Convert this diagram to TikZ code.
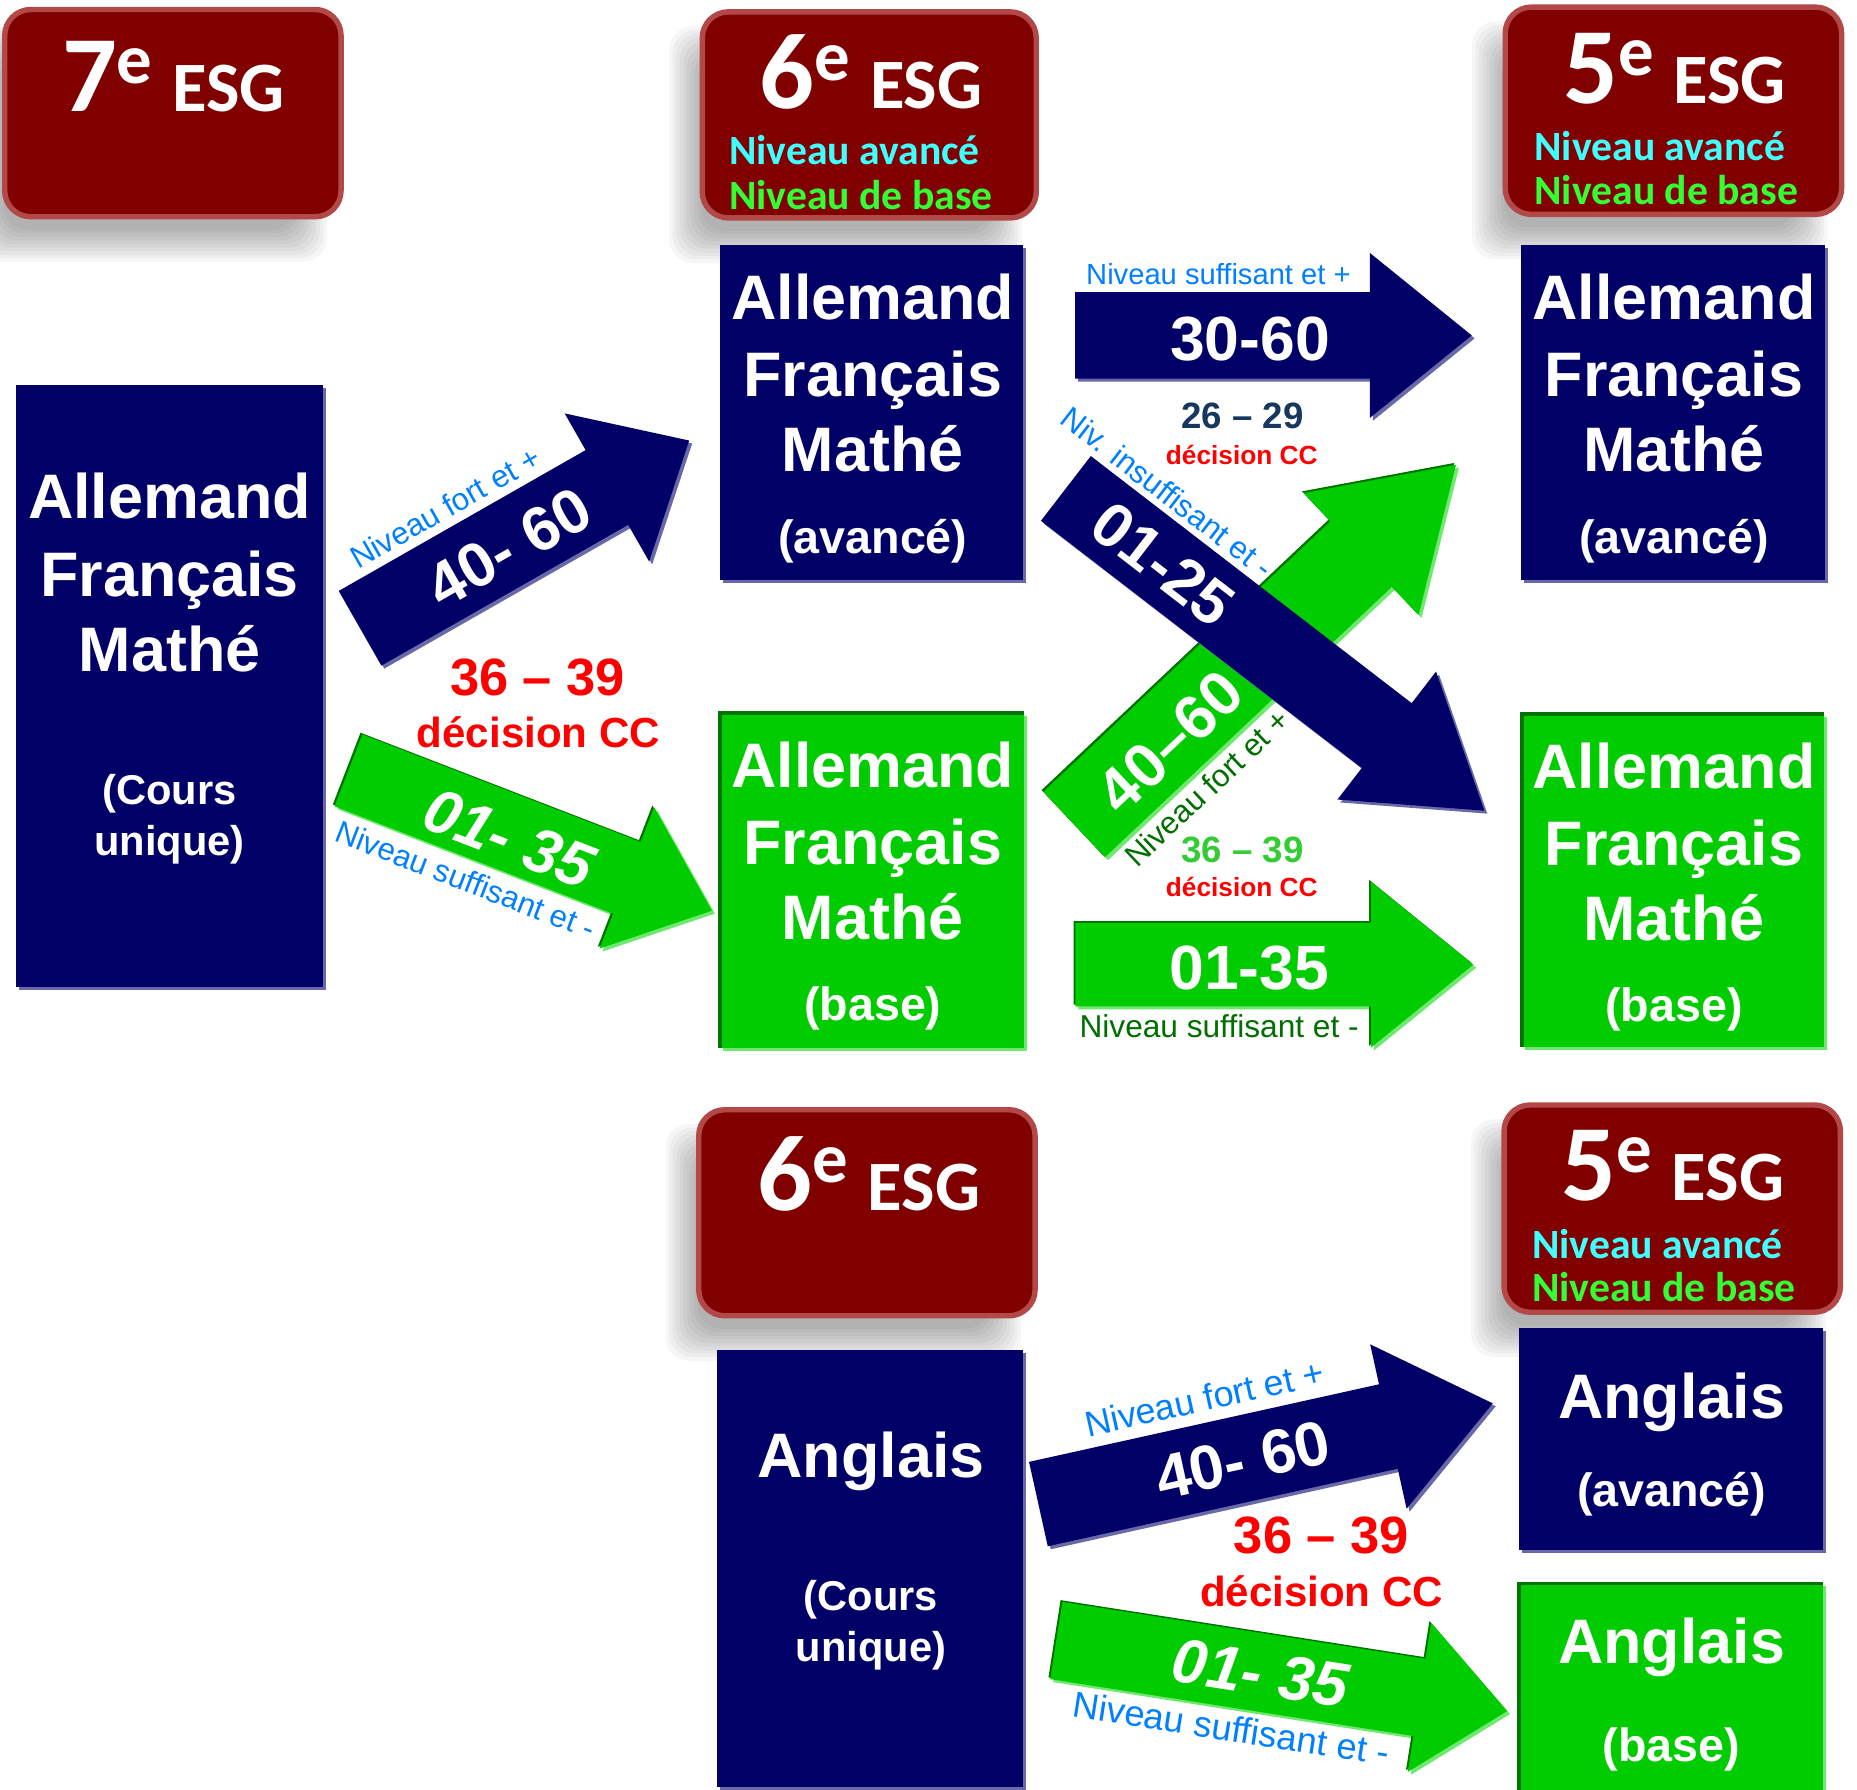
\documentclass[tikz,border=0pt]{standalone}
\usepackage{fontspec}
\setmainfont{Liberation Sans}
\newfontfamily\hdrfont{Carlito}
\definecolor{nvy}{RGB}{0,0,102}
\definecolor{nvyl}{RGB}{105,105,170}
\definecolor{grn}{RGB}{0,204,0}
\definecolor{grnl}{RGB}{110,232,110}
\definecolor{grnd}{RGB}{0,115,0}
\definecolor{dred}{RGB}{128,0,0}
\definecolor{hedge}{RGB}{178,72,72}
\definecolor{cyanT}{RGB}{64,255,255}
\definecolor{limeT}{RGB}{51,255,51}
\definecolor{blueT}{RGB}{0,128,255}
\definecolor{dgrnT}{RGB}{0,110,0}
\definecolor{grnNum}{RGB}{51,204,51}
\definecolor{slateT}{RGB}{23,55,94}
\definecolor{redT}{RGB}{255,0,0}
\newcommand\ttl[1]{{\fontsize{26}{26}\selectfont #1}{\fontsize{17}{17}\selectfont\raisebox{6.8pt}{e}\hspace{0.28em}ESG}}
\newcommand\arrpath[4]{(0,-#3) -- (#2,-#3) -- (#2,-#4) -- (#1,0) -- (#2,#4) -- (#2,#3) -- (0,#3) -- cycle}
% #1 x, #2 y, #3 angle, #4 length, #5 head back, #6 shaft half, #7 head half
\newcommand\navyarrow[7]{%
  \begin{scope}[shift={({#1+2.5},{#2+2.5})},rotate=#3]\fill[nvyl] \arrpath{#4}{#5}{#6}{#7};\end{scope}
  \begin{scope}[shift={(#1,#2)},rotate=#3]\fill[nvy] \arrpath{#4}{#5}{#6}{#7};\end{scope}}
\newcommand\greenarrow[7]{%
  \begin{scope}[shift={({#1+2.5},{#2+2.5})},rotate=#3]\fill[grnl] \arrpath{#4}{#5}{#6}{#7};\end{scope}
  \begin{scope}[shift={({#1-1.5},{#2-1.5})},rotate=#3]\fill[grnd] \arrpath{#4}{#5}{#6}{#7};\end{scope}
  \begin{scope}[shift={(#1,#2)},rotate=#3]\fill[grn] \arrpath{#4}{#5}{#6}{#7};\end{scope}}
% header box: name, x1,y1,x2,y2
\newcommand\headbox[5]{%
  \foreach \d in {-14,-11,...,13} {\fill[black,opacity=0.035,rounded corners=0.2cm] ({#2-15-\d},{#3+25-\d}) rectangle ({#4-25+\d},{#5+25+\d});}
  \draw[hedge,line width=1.3pt,fill=dred,rounded corners=0.22cm] (#2,#3) rectangle (#4,#5);
  \coordinate (#1) at ({(#2+#4)/2},{(#3+#5)/2});}
% block: name, x1,y1,x2,y2, fill, light
\newcommand\block[7]{%
  \fill[#7] ({#2+2.5},{#3+2.5}) rectangle ({#4+2.5},{#5+2.5});
  \fill[#6] (#2,#3) rectangle (#4,#5);
  \coordinate (#1) at ({(#2+#4)/2},{(#3+#5)/2});}
\tikzset{
  blk/.style={text=white,anchor=base,inner sep=0pt,font=\fontsize{15.1}{18}\selectfont\bfseries},
  blksub/.style={text=white,anchor=base,inner sep=0pt,font=\fontsize{10}{12}\selectfont\bfseries},
  blklvl/.style={text=white,anchor=base,inner sep=0pt,font=\fontsize{11.2}{13}\selectfont\bfseries},
  numtxt/.style={text=white,inner sep=0pt,font=\fontsize{15}{18}\selectfont\bfseries},
  lbl/.style={inner sep=0pt,font=\fontsize{7.5}{9}\selectfont},
  hdrtitle/.style={text=white,anchor=base,inner sep=0pt,font=\hdrfont\bfseries},
  hdrlvl/.style={anchor=base west,inner sep=0pt,font=\hdrfont\bfseries\fontsize{10}{12}\selectfont},
  dec/.style={anchor=base,inner sep=0pt,text=redT,font=\bfseries},
}
\begin{document}
\begin{tikzpicture}[x=0.01cm,y=-0.01cm]
\useasboundingbox (0,0) rectangle (1568,1511);
% headers
\headbox{h7}{4}{8}{288}{183}
\headbox{h6}{593}{10}{875}{184}
\headbox{h5}{1271}{6}{1555}{181}
\headbox{h6b}{590}{937}{874}{1111}
\headbox{h5b}{1270}{933}{1554}{1108}
\node[hdrtitle] (h7t) at (146.5,94.3) {\ttl{7}};
\node[hdrtitle] (h6t) at (735.5,91.5) {\ttl{6}};
\node[hdrtitle] (h5t) at (1414,87.3) {\ttl{5}};
\node[hdrtitle] (h6bt) at (733.5,1022.3) {\ttl{6}};
\node[hdrtitle] (h5bt) at (1412.6,1013.8) {\ttl{5}};
\node[hdrlvl,text=cyanT] (h6l1) at (615,139.3) {Niveau avancé};
\node[hdrlvl,text=limeT] (h6l2) at (615,176.8) {Niveau de base};
\node[hdrlvl,text=cyanT] (h5l1) at (1295,135.7) {Niveau avancé};
\node[hdrlvl,text=limeT] (h5l2) at (1295,173) {Niveau de base};
\node[hdrlvl,text=cyanT] (h5bl1) at (1293,1062.5) {Niveau avancé};
\node[hdrlvl,text=limeT] (h5bl2) at (1293,1099) {Niveau de base};
% blocks
\block{b7}{13.5}{325}{273}{833}{nvy}{nvyl}
\block{b6a}{608}{207}{864}{490}{nvy}{nvyl}
\block{b6b}{608}{602}{865}{885}{grn}{grnl}
\block{b5a}{1284}{207}{1541}{490}{nvy}{nvyl}
\block{b5b}{1285}{603}{1540}{884}{grn}{grnl}
\block{e6}{605.7}{1140}{864}{1508.6}{nvy}{nvyl}
\block{e5a}{1282.6}{1121.6}{1539.6}{1308.8}{nvy}{nvyl}
\block{e5b}{1282.6}{1337}{1539.6}{1511}{grn}{grnl}
\draw[grnd,line width=0.8pt] (608,885) -- (608,602) -- (865,602);
\draw[grnd,line width=0.8pt] (1285,884) -- (1285,603) -- (1540,603);
\draw[grnd,line width=0.8pt] (1282.6,1511) -- (1282.6,1337) -- (1539.6,1337);
% block texts
\node[blk] (b7a) at (143.2,437.7) {Allemand};
\node[blk] (b7b) at (143.2,503.3) {Français};
\node[blk] (b7c) at (143.2,567.2) {Mathé};
\node[blksub] (b7d) at (143.2,679.7) {(Cours};
\node[blksub] (b7e) at (143.2,722) {unique)};
\node[blk] (b6aa) at (737,269.6) {Allemand};
\node[blk] (b6ab) at (737,334.9) {Français};
\node[blk] (b6ac) at (737,398.3) {Mathé};
\node[blklvl] (b6ad) at (737,467.2) {(avancé)};
\node[blk] (b6ba) at (737,664.7) {Allemand};
\node[blk] (b6bb) at (737,730) {Français};
\node[blk] (b6bc) at (737,793.4) {Mathé};
\node[blklvl] (b6bd) at (737,862) {(base)};
\node[blk] (b5aa) at (1413.5,269.7) {Allemand};
\node[blk] (b5ab) at (1413.5,335) {Français};
\node[blk] (b5ac) at (1413.5,398.4) {Mathé};
\node[blklvl] (b5ad) at (1413.5,467) {(avancé)};
\node[blk] (b5ba) at (1413.5,665.7) {Allemand};
\node[blk] (b5bb) at (1413.5,730.4) {Français};
\node[blk] (b5bc) at (1413.5,794.3) {Mathé};
\node[blklvl] (b5bd) at (1413.5,862.7) {(base)};
\node[blk] (e6a) at (735.5,1247.4) {Anglais};
\node[blksub] (e6b) at (735.5,1359.5) {(Cours};
\node[blksub] (e6c) at (735.5,1403.1) {unique)};
\node[blk] (e5aa) at (1411.5,1197.6) {Anglais};
\node[blklvl] (e5ab) at (1411.5,1272.2) {(avancé)};
\node[blk] (e5ba) at (1411.5,1404.5) {Anglais};
\node[blklvl] (e5bb) at (1411.5,1487.5) {(base)};
% arrows
\navyarrow{304}{530.5}{29.7}{320}{240}{36.3}{72}
\greenarrow{294.2}{650.5}{-21.1}{329}{252}{32.5}{64}
\navyarrow{907.7}{283.2}{0}{335}{249}{36.5}{69.6}
\greenarrow{907}{696.2}{43.3}{443}{333}{37.9}{70.7}
\navyarrow{900}{412.4}{-37.6}{446}{342}{34.5}{68.2}
\greenarrow{908}{814.5}{0}{336}{249.6}{35.3}{70}
\navyarrow{876.8}{1270}{12.5}{393}{302.7}{36.5}{71.1}
\greenarrow{891.9}{1385.2}{-8.9}{385.3}{310.4}{33}{63.7}
% arrow texts
\begin{scope}[shift={(304,530.5)},rotate=29.7]
  \node[numtxt,rotate=29.7] (a1n) at (143,3) {40- 60};
  \node[lbl,text=blueT,rotate=29.7] (a1l) at (113,-53) {Niveau fort et +};
\end{scope}
\begin{scope}[shift={(294.2,650.5)},rotate=-21.1]
  \node[numtxt,rotate=-21.1,font=\fontsize{15}{18}\selectfont\bfseries\itshape] (a2n) at (147.5,4.6) {01- 35};
  \node[lbl,text=blueT,rotate=-21.1] (a2l) at (125.6,50.6) {Niveau suffisant et -};
\end{scope}
\node[numtxt,anchor=base] (a3n) at (1055.5,304.2) {30-60};
\node[lbl,text=blueT,anchor=base,font=\fontsize{7}{9}\selectfont] (a3l) at (1028.8,240.2) {Niveau suffisant et +};
\begin{scope}[shift={(907,696.2)},rotate=43.3]
  \node[numtxt,rotate=43.3] (a4n) at (106.8,4.9) {40–60};
  \node[lbl,text=dgrnT,rotate=43.3] (a4l) at (102.9,54.1) {Niveau fort et +};
\end{scope}
\begin{scope}[shift={(900,412.4)},rotate=-37.6]
  \node[numtxt,rotate=-37.6] (a5n) at (104.3,0.6) {01-25};
  \node[lbl,text=blueT,rotate=-37.6] (a5l) at (69.9,-49.7) {Niv. insuffisant et -};
\end{scope}
\node[numtxt,anchor=base] (a6n) at (1054.8,835.1) {01-35};
\node[lbl,text=dgrnT,anchor=base,font=\fontsize{7.6}{9}\selectfont] (a6l) at (1029.4,876.1) {Niveau suffisant et -};
\begin{scope}[shift={(876.8,1270)},rotate=12.5]
  \node[numtxt,rotate=12.5] (a7n) at (176.6,1) {40- 60};
  \node[lbl,text=blueT,rotate=12.5,font=\fontsize{8.6}{10}\selectfont] (a7l) at (156.1,-56.9) {Niveau fort et +};
\end{scope}
\begin{scope}[shift={(891.9,1385.2)},rotate=-8.9]
  \node[numtxt,rotate=-8.9,font=\fontsize{15}{18}\selectfont\bfseries\itshape] (a8n) at (174.8,0.7) {01- 35};
  \node[lbl,text=blueT,rotate=-8.9,font=\fontsize{8.7}{10}\selectfont] (a8l) at (157.4,50.3) {Niveau suffisant et -};
\end{scope}
% decision texts
\node[dec,font=\fontsize{12.6}{14}\selectfont\bfseries] (d1a) at (453.9,587.4) {36 – 39};
\node[dec,font=\fontsize{10.1}{12}\selectfont\bfseries] (d1b) at (454.6,631.1) {décision CC};
\node[dec,text=slateT,font=\fontsize{8.8}{10}\selectfont\bfseries] (d2a) at (1049.2,361.6) {26 – 29};
\node[dec,font=\fontsize{6.3}{8}\selectfont\bfseries] (d2b) at (1048.5,392.6) {décision CC};
\node[dec,text=grnNum,font=\fontsize{8.8}{10}\selectfont\bfseries] (d3a) at (1049.2,728.2) {36 – 39};
\node[dec,font=\fontsize{6.3}{8}\selectfont\bfseries] (d3b) at (1048.5,756.9) {décision CC};
\node[dec,font=\fontsize{12.6}{14}\selectfont\bfseries] (d4a) at (1115.8,1311.6) {36 – 39};
\node[dec,font=\fontsize{10.1}{12}\selectfont\bfseries] (d4b) at (1115.9,1356.6) {décision CC};
\end{tikzpicture}
\end{document}
